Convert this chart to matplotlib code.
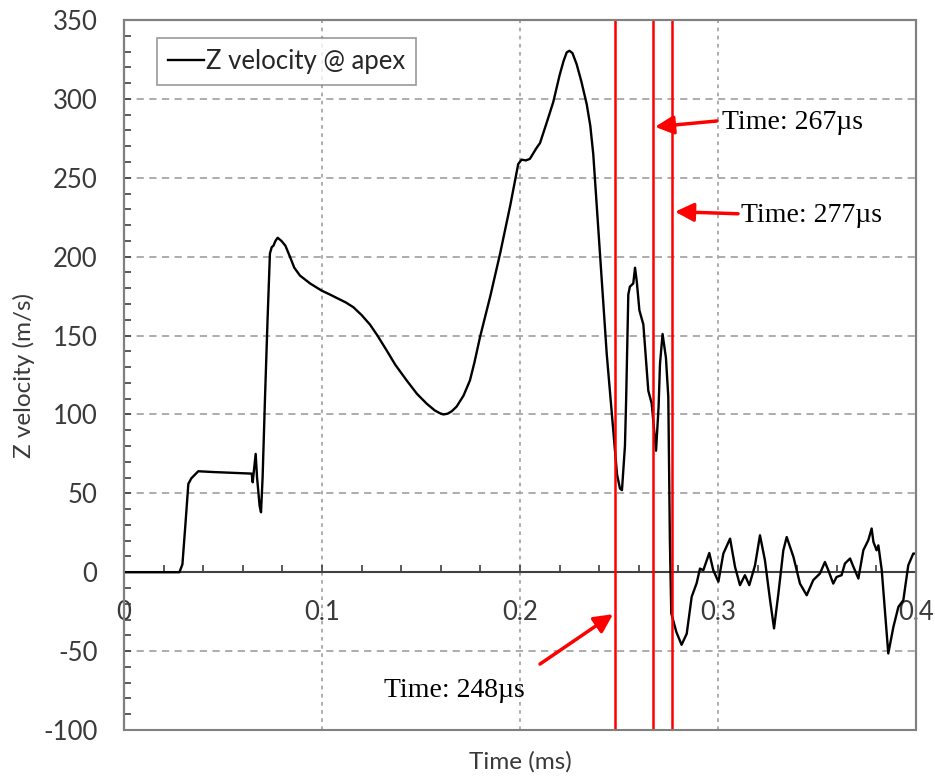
import matplotlib
matplotlib.use("Agg")
import matplotlib.pyplot as plt
from matplotlib.ticker import MultipleLocator, FixedLocator
from matplotlib.patches import Rectangle

# ---- data ----
time_ms = [0, 0.028, 0.0295, 0.031, 0.0325, 0.034, 0.0375, 0.045, 0.055, 0.0636, 0.0645,
           0.065, 0.0665, 0.0672, 0.0685, 0.0692, 0.0700, 0.0712, 0.0725, 0.0737, 0.0746,
           0.0755, 0.0765, 0.0776, 0.0795, 0.0815, 0.0838, 0.0860, 0.0889, 0.0940, 0.0998,
           0.1040, 0.1080, 0.1120, 0.1158, 0.1200, 0.1242, 0.1280, 0.1327, 0.1370, 0.1428,
           0.1480, 0.1529, 0.1570, 0.1595, 0.1613, 0.1635, 0.1655, 0.1680, 0.1715, 0.1747,
           0.1770, 0.1798, 0.1850, 0.1899, 0.1950, 0.1991, 0.2008, 0.2030, 0.2050, 0.2084,
           0.2101, 0.2135, 0.2168, 0.2200, 0.2220, 0.2236, 0.2250, 0.2265, 0.2286, 0.2310,
           0.2337, 0.2355, 0.2370, 0.2404,
           0.2438, 0.2471, 0.2490, 0.2505, 0.2515, 0.2530, 0.2536, 0.2547, 0.2555, 0.2572,
           0.2581, 0.2590, 0.2603, 0.2623, 0.2648, 0.2665, 0.2687, 0.2700, 0.2707, 0.2720,
           0.2737, 0.2749, 0.2757, 0.2764, 0.2790, 0.2816, 0.2842, 0.2867, 0.2892, 0.2909,
           0.2926, 0.2956, 0.2976, 0.3002, 0.3027, 0.3061, 0.3086, 0.3111, 0.3136, 0.3158,
           0.3187, 0.3212, 0.3237, 0.3263, 0.3283, 0.3305, 0.3330, 0.3347, 0.3381, 0.3414,
           0.3448, 0.3481, 0.3515, 0.3540, 0.3557, 0.3582, 0.3599, 0.3624, 0.3641, 0.3667,
           0.3684, 0.3709, 0.3734, 0.3759, 0.3776, 0.3785, 0.3801, 0.3810, 0.3827, 0.3843,
           0.3860, 0.3886, 0.3911, 0.3936, 0.3961, 0.3986, 0.4000]
velocity = [0, 0, 5, 30, 56, 59.5, 64, 63.5, 63, 62.5, 62.5,
            57, 75, 60, 42, 38, 60, 110, 160, 202, 206,
            207, 210, 212, 210, 207, 200, 193, 188, 183, 178.5,
            176, 173.5, 171, 168, 163, 157, 150, 140.5, 131.5, 121.5,
            113, 106.8, 102.5, 100.8, 100, 100.5, 102, 105, 112, 121.5,
            133, 149, 175, 201.7, 232, 258.7, 261.5, 261, 262, 269,
            272, 285, 298, 315, 324, 329.5, 330.5, 329, 322, 311,
            296.6, 283, 265, 201.7,
            138.4, 90, 62, 53, 52, 80, 109, 176, 181, 183,
            193, 184, 166, 157, 115, 107, 77, 105, 132, 151,
            136, 111, 20, -26, -38, -46, -39, -15.6, -7, 2.3,
            1.3, 12.2, 1.3, -6, 11.8, 21.3, 3.4, -8.2, -1.9, -8.2,
            4.4, 23.4, 7.6, -17.7, -35.6, -13.5, 13.9, 22.3, 9.7, -7.2,
            -14.6, -5, -0.8, 6.5, 1.3, -7.2, -3, -1.9, 5.5, 8.7,
            3.4, -4, 13.9, 20.3, 27.7, 19.2, 13.9, 17, 1.3, -24,
            -51.5, -34.6, -22, -17.7, 4.4, 11.8, 11.8]

marker_times = [0.248, 0.267, 0.277]
marker_labels = ["Time: 248\u00b5s", "Time: 267\u00b5s", "Time: 277\u00b5s"]

x_ticks = [0, 0.1, 0.2, 0.3, 0.4]
x_tick_labels = ["0", "0.1", "0.2", "0.3", "0.4"]
y_ticks = [-100, -50, 0, 50, 100, 150, 200, 250, 300, 350]

# ---- figure ----
plt.rcParams['font.family'] = ['Lato', 'DejaVu Sans']
plt.rcParams['axes.unicode_minus'] = False
fig = plt.figure(figsize=(9.35, 7.81), dpi=100)
ax = fig.add_axes([124/935, 1-730/781, (916-124)/935, (730-20)/781])

ax.set_xlim(0, 0.4)
ax.set_ylim(-100, 350)

grey = '#a6a6a6'
for yv in [-50, 50, 100, 150, 200, 250, 300]:
    ax.axhline(yv, color=grey, lw=1.3, ls=(0, (4, 3)), zorder=1)
for xv in [0.1, 0.2, 0.3]:
    ax.axvline(xv, color=grey, lw=1.3, ls=(0, (2, 2.5)), zorder=1)

ax.plot(time_ms, velocity, color='black', lw=1.7, zorder=4, label='Z velocity @ apex',
        solid_joinstyle='round')

for t in marker_times:
    ax.axvline(t, color='red', lw=1.8, zorder=5)

for s in ['top', 'right', 'left']:
    ax.spines[s].set_color('#808080')
    ax.spines[s].set_linewidth(1.5)
ax.spines['left'].set_color('#404040')
ax.spines['bottom'].set_position(('data', 0))
ax.spines['bottom'].set_color('#404040')
ax.spines['bottom'].set_linewidth(1.5)
ax.spines['bottom'].set_zorder(3)
ax.add_patch(Rectangle((0, 0), 1, 1, transform=ax.transAxes, fill=False,
                       edgecolor='#808080', lw=1.5, clip_on=False, zorder=6))

ax.xaxis.set_major_locator(FixedLocator(x_ticks))
ax.set_xticklabels(x_tick_labels)
ax.xaxis.set_minor_locator(MultipleLocator(0.02))
ax.yaxis.set_major_locator(FixedLocator(y_ticks))
ax.yaxis.set_minor_locator(MultipleLocator(10))

fs = 18.5
ax.tick_params(axis='x', which='both', direction='in', length=5, width=1.2,
               color='#404040', labelsize=fs, labelcolor='#3a3a3a', pad=20)
ax.tick_params(axis='y', which='both', direction='in', length=5, width=1.2,
               color='#404040', labelsize=fs, labelcolor='#3a3a3a', pad=19)

ax.set_xlabel('Time (ms)', fontsize=17.5, color='#3a3a3a')
ax.xaxis.set_label_coords(0.5, -0.029)
ax.set_ylabel('Z velocity (m/s)', fontsize=17.5, color='#3a3a3a')
ax.yaxis.set_label_coords(-0.113, 0.5)

leg = ax.legend(loc='upper left', bbox_to_anchor=((157-124)/792, 1-(38-20)/710),
                fontsize=fs, frameon=True, fancybox=False, handlelength=1.4,
                handletextpad=0.1, borderpad=0.42, borderaxespad=0)
leg.get_frame().set_edgecolor('#808080')
leg.get_frame().set_linewidth(1.2)
for txt in leg.get_texts():
    txt.set_color('#262626')

arrow = dict(arrowstyle='-|>', color='red', lw=2.5, mutation_scale=28, shrinkA=0, shrinkB=0)
serif = 'Liberation Serif'
ax.annotate('', xy=(0.2682, 282.3), xytext=(0.2995, 286), arrowprops=arrow, zorder=7)
ax.text(0.302, 284.8, marker_labels[1], fontsize=20, family=serif, va='center', ha='left', zorder=7)
ax.annotate('', xy=(0.2783, 228.5), xytext=(0.3101, 227.2), arrowprops=arrow, zorder=7)
ax.text(0.3116, 226, marker_labels[2], fontsize=20, family=serif, va='center', ha='left', zorder=7)
ax.annotate('', xy=(0.247, -26.6), xytext=(0.2101, -58.2), arrowprops=arrow, zorder=7)
ax.text(0.1667, -74.7, marker_labels[0], fontsize=20, family=serif, va='center', ha='center', zorder=7)

fig.savefig('out.png', dpi=100)
